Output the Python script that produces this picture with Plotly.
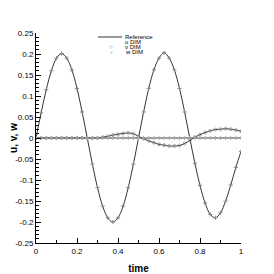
import plotly.graph_objects as go

time = [0.0, 0.025, 0.05, 0.075, 0.1, 0.125, 0.15, 0.175, 0.2, 0.225, 0.25,
        0.275, 0.3, 0.325, 0.35, 0.375, 0.4, 0.425, 0.45, 0.475, 0.5,
        0.525, 0.55, 0.575, 0.6, 0.625, 0.65, 0.675, 0.7, 0.725, 0.75,
        0.775, 0.8, 0.825, 0.85, 0.875, 0.9, 0.925, 0.95, 0.975, 1.0]

u_ref = [0.0, 0.06, 0.115, 0.16, 0.19, 0.201, 0.19, 0.162, 0.118, 0.062, 0.0,
         -0.062, -0.118, -0.162, -0.19, -0.2, -0.19, -0.162, -0.118, -0.062, 0.0,
         0.062, 0.118, 0.162, 0.19, 0.203, 0.19, 0.162, 0.118, 0.062, 0.0,
         -0.06, -0.113, -0.155, -0.182, -0.19, -0.178, -0.15, -0.112, -0.07, -0.032]

v_ref = [0.0, 0.0, 0.0, 0.0, 0.0, 0.0, 0.0, 0.0, 0.0, 0.0, 0.0,
         0.0, 0.0, 0.002, 0.004, 0.007, 0.009, 0.011, 0.012, 0.010, 0.004,
         -0.002, -0.007, -0.011, -0.015, -0.017, -0.019, -0.019, -0.018, -0.013, -0.006,
         0.002, 0.008, 0.013, 0.017, 0.020, 0.021, 0.022, 0.021, 0.019, 0.016]

w_ref = [0.0] * 41

u_dim = u_ref
v_dim = v_ref
w_dim = w_ref

legend_names = ["Reference", "u DIM", "v DIM", "w DIM"]

x_ticks = [0, 0.2, 0.4, 0.6, 0.8, 1]
x_labels = ["0", "0.2", "0.4", "0.6", "0.8", "1"]
y_ticks = [0.25, 0.2, 0.15, 0.1, 0.05, 0, -0.05, -0.1, -0.15, -0.2, -0.25]
y_labels = ["0.25", "0.2", "0.15", "0.1", "0.05", "0", "-0.05", "-0.1", "-0.15", "-0.2", "-0.25"]

FONT = "Liberation Sans, Arial"
fig = go.Figure()
for ys in [u_ref, v_ref, w_ref]:
    fig.add_trace(go.Scatter(x=time, y=ys, mode="lines", line=dict(color="black", width=0.8, shape="spline"),
                             showlegend=False))
fig.add_trace(go.Scatter(x=time, y=u_dim, mode="markers", showlegend=False,
                         marker=dict(symbol="cross-thin-open", size=3, color="#888", line=dict(width=1, color="#888"))))
fig.add_trace(go.Scatter(x=time, y=v_dim, mode="markers", showlegend=False,
                         marker=dict(symbol="circle-open", size=3, color="#888", line=dict(width=0.7, color="#888"))))
fig.add_trace(go.Scatter(x=time, y=w_dim, mode="markers", showlegend=False,
                         marker=dict(symbol="cross-thin-open", size=3, color="#aaa", line=dict(width=1, color="#aaa"))))

# legend drawn as decorations in paper coordinates
rows_y = [0.981, 0.957, 0.933, 0.910]
shapes = [dict(type="line", xref="paper", yref="paper", x0=0.302, x1=0.42, y0=rows_y[0], y1=rows_y[0],
               line=dict(color="black", width=0.8))]
annotations = []
for name, yy in zip(legend_names, rows_y):
    annotations.append(dict(text=name, xref="paper", yref="paper", x=0.424, y=yy, xanchor="left",
                            yanchor="middle", showarrow=False, font=dict(family=FONT, size=6, color="black")))
annotations.append(dict(text="○", xref="paper", yref="paper", x=0.366, y=rows_y[2], xanchor="center",
                        yanchor="middle", showarrow=False, font=dict(family=FONT, size=6, color="#555")))
annotations.append(dict(text="+", xref="paper", yref="paper", x=0.366, y=rows_y[3], xanchor="center",
                        yanchor="middle", showarrow=False, font=dict(family=FONT, size=5, color="#aaa")))

axis_font = dict(family=FONT, size=8, color="black")
fig.update_layout(
    width=266, height=266,
    margin=dict(l=28, r=33, t=25, b=31),
    paper_bgcolor="white", plot_bgcolor="white",
    showlegend=False,
    shapes=shapes, annotations=annotations,
    xaxis=dict(range=[0, 1], tickvals=x_ticks, ticktext=x_labels, ticks="inside", ticklen=5,
               tickcolor="black", showline=True, linecolor="black", linewidth=1, showgrid=False,
               zeroline=False, tickfont=axis_font, automargin=False,
               minor=dict(dtick=0.1, ticks="inside", ticklen=3, tickcolor="black", showgrid=False),
               title=dict(text="<b>time</b>", font=dict(family=FONT, size=10, color="black"))),
    yaxis=dict(range=[-0.25, 0.25], tickvals=y_ticks, ticktext=y_labels, ticks="inside", ticklen=5,
               tickcolor="black", showline=True, linecolor="black", linewidth=1, showgrid=False,
               zeroline=False, tickfont=axis_font, automargin=False,
               minor=dict(dtick=0.01, ticks="inside", ticklen=3, tickcolor="black", showgrid=False),
               title=dict(text="<b>u, v, w</b>", font=dict(family=FONT, size=10, color="black"))),
)

fig.write_html("out.html")
